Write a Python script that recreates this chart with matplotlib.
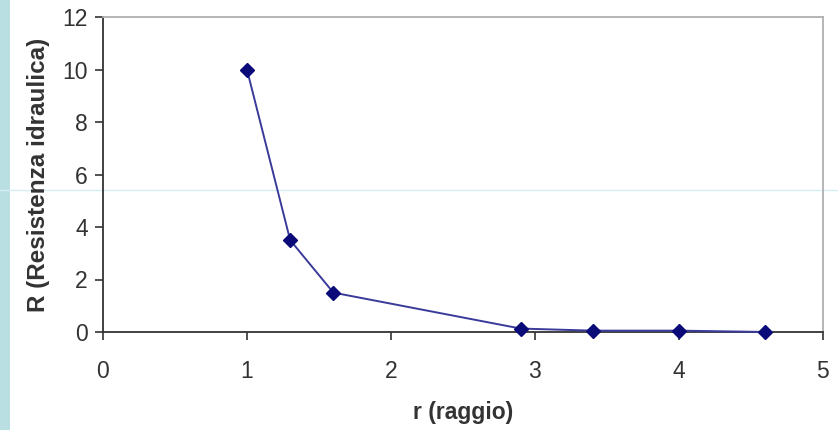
import matplotlib
matplotlib.use("Agg")
import matplotlib.pyplot as plt
from matplotlib.lines import Line2D
from matplotlib.patches import Rectangle

r_values = [1.0, 1.3, 1.6, 2.9, 3.4, 4.0, 4.6]
R_values = [10.0, 3.5, 1.5, 0.13, 0.05, 0.05, 0.0]
x_ticks = [0, 1, 2, 3, 4, 5]
y_ticks = [0, 2, 4, 6, 8, 10, 12]

plt.rcParams['font.family'] = ['Liberation Sans', 'DejaVu Sans']

fig = plt.figure(figsize=(8.38, 4.30), dpi=100, facecolor='white')
ax = fig.add_axes([0.1229, 0.228, 0.982 - 0.1229, 0.960 - 0.228])
ax.set_facecolor('none')

# decorative background elements
fig.patches.append(Rectangle((0, 0), 10 / 838, 1, transform=fig.transFigure,
                             facecolor='#b9dfe3', edgecolor='none', zorder=-2))
fig.lines.append(Line2D([0, 1], [1 - 190 / 430, 1 - 190 / 430], transform=fig.transFigure,
                        color='#d5ecf1', linewidth=1, zorder=-1))

ax.plot(r_values, R_values, color='#3a3a9a', linewidth=1.4, marker='D',
        markersize=7, markerfacecolor='#0a0a78', markeredgecolor='#0a0a78', zorder=3,
        clip_on=False)

ax.set_xlim(0, 5)
ax.set_ylim(0, 12)
ax.set_xticks(x_ticks)
ax.set_yticks(y_ticks)

ax.spines['left'].set_color('#333333')
ax.spines['bottom'].set_color('#333333')
ax.spines['top'].set_color('#b0b0b0')
ax.spines['right'].set_color('#b0b0b0')
for s in ax.spines.values():
    s.set_linewidth(1.3)

ax.tick_params(axis='both', direction='out', length=6, width=1.2, color='#333333',
               labelsize=16.5, labelcolor='#333333', pad=5)
ax.tick_params(axis='x', pad=14)

ax.set_xlabel('r (raggio)', fontsize=16.5, fontweight='bold', color='#333333', labelpad=13)
ax.set_ylabel('R (Resistenza idraulica)', fontsize=17.5, fontweight='bold', color='#333333', labelpad=9)

fig.savefig('out.png', dpi=100, facecolor='white')
